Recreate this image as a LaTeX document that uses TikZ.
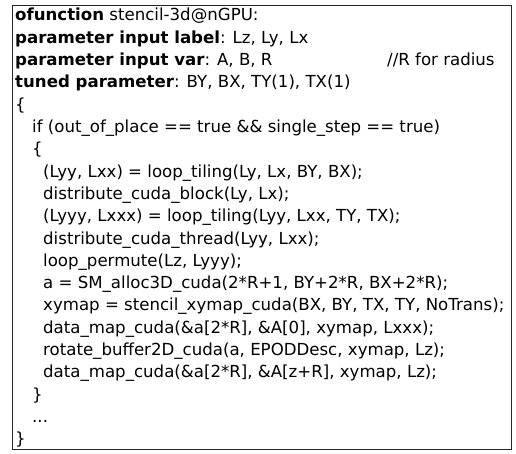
\documentclass[tikz,border=0pt]{standalone}
\usepackage{fontspec}
\setmainfont{DejaVu Sans}
\begin{document}
\begin{tikzpicture}[x=1pt,y=-1pt,
  code/.style={anchor=base west, inner sep=0pt, font=\fontsize{16.6}{20}\selectfont},
  frame/.style={draw=black!85, line width=1.2pt, anchor=north west, inner sep=0pt}]
\useasboundingbox (0,0) rectangle (516,454);
\node[frame, minimum width=499pt, minimum height=444pt] (box) at (12,5) {};
\node[code] (l0) at (15,21) {\textbf{ofunction} stencil-3d@nGPU:};
\node[code] (l1) at (15,43.3) {\textbf{parameter input label}: Lz, Ly, Lx};
\node[code] (l2) at (15,65.6) {\textbf{parameter input var}: A, B, R};
\node[code] (c2) at (387,65.6) {//R for radius};
\node[code] (l3) at (15,87.9) {\textbf{tuned parameter}: BY, BX, TY(1), TX(1)};
\node[code] (l4) at (15,110.2) {\{};
\node[code] (l5) at (32,132.5) {if (out\_of\_place == true \&\& single\_step == true)};
\node[code] (l6) at (32,154.8) {\{};
\node[code] (l7) at (43,177.1) {(Lyy, Lxx) = loop\_tiling(Ly, Lx, BY, BX);};
\node[code] (l8) at (43,199.4) {distribute\_cuda\_block(Ly, Lx);};
\node[code] (l9) at (43,221.7) {(Lyyy, Lxxx) = loop\_tiling(Lyy, Lxx, TY, TX);};
\node[code] (l10) at (43,244) {distribute\_cuda\_thread(Lyy, Lxx);};
\node[code] (l11) at (43,266.3) {loop\_permute(Lz, Lyyy);};
\node[code] (l12) at (43,288.6) {a = SM\_alloc3D\_cuda(2*R+1, BY+2*R, BX+2*R);};
\node[code] (l13) at (43,310.9) {xymap = stencil\_xymap\_cuda(BX, BY, TX, TY, NoTrans);};
\node[code] (l14) at (43,333.2) {data\_map\_cuda(\&a[2*R], \&A[0], xymap, Lxxx);};
\node[code] (l15) at (43,355.5) {rotate\_buffer2D\_cuda(a, EPODDesc, xymap, Lz);};
\node[code] (l16) at (43,377.8) {data\_map\_cuda(\&a[2*R], \&A[z+R], xymap, Lz);};
\node[code] (l17) at (32,400.1) {\}};
\node[code] (l18) at (32,422.4) {...};
\node[code] (l19) at (15,444.7) {\}};
\end{tikzpicture}
\end{document}
